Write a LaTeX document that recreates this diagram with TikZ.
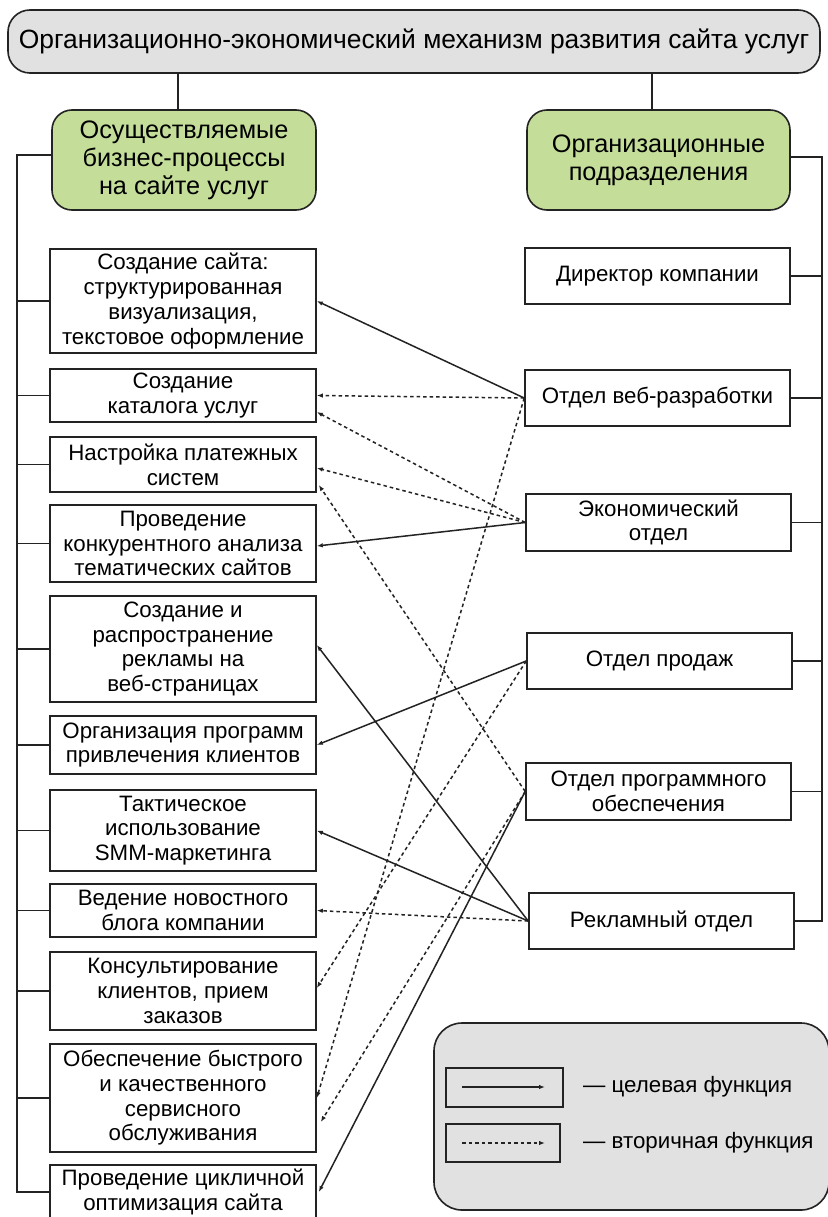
\documentclass[tikz,border=0pt]{standalone}
\usepackage{fontspec}
\setmainfont{Liberation Sans}
\usetikzlibrary{arrows.meta,calc}
\definecolor{grn}{RGB}{196,222,154}
\definecolor{gry}{RGB}{225,225,225}
\definecolor{ln}{RGB}{35,35,35}
\begin{document}
\begin{tikzpicture}[x=1pt,y=-1pt,
  box/.style={draw=ln, line width=1.6pt, fill=white, align=center, inner sep=0pt, minimum width=266pt, font=\fontsize{22.3}{24.7}\selectfont},
  dbox/.style={draw=ln, line width=1.6pt, fill=white, align=center, inner sep=0pt, minimum width=265pt, minimum height=56pt, font=\fontsize{22.3}{24.7}\selectfont},
  head/.style={draw=ln, line width=1.6pt, fill=grn, rounded corners=20pt, align=center, inner sep=0pt, minimum height=100pt, font=\fontsize{25.3}{28}\selectfont},
  wire/.style={draw=ln, line width=1.6pt},
  tgt/.style={draw=ln, line width=1.5pt, -{Latex[length=6pt,width=4.5pt]}},
  sec/.style={draw=ln, line width=1.5pt, dash pattern=on 3.5pt off 3pt, -{Latex[length=6pt,width=4.5pt]}},
  legtext/.style={anchor=west, inner sep=0pt, font=\fontsize{22.3}{24.7}\selectfont}
]
\useasboundingbox (0,0) rectangle (827,1217);
\fill[white] (0,0) rectangle (827,1217);

% top
\node[draw=ln, line width=1.6pt, fill=gry, rounded corners=22pt, minimum width=812pt, minimum height=63pt, inner sep=0pt, font=\fontsize{26.4}{30}\selectfont] (t) at (414,41.5) {Организационно-экономический механизм развития сайта услуг};

\node[head, minimum width=264pt] (g1) at (184,160) {Осуществляемые\\бизнес-процессы\\на сайте услуг};
\node[head, minimum width=263pt] (g2) at (658.5,160) {Организационные\\подразделения};

\coordinate (c1) at (178,0);
\coordinate (c2) at (652,0);
\draw[wire] (t.south -| c1) -- (g1.north -| c1);
\draw[wire] (t.south -| c2) -- (g2.north -| c2);

% processes
\node[box, minimum height=104pt] (p1) at (183,301) {Создание сайта:\\структурированная\\визуализация,\\текстовое оформление};
\node[box, minimum height=53pt] (p2) at (183,395.5) {Создание\\каталога услуг};
\node[box, minimum height=55pt] (p3) at (183,464.5) {Настройка платежных\\систем};
\node[box, minimum height=77pt] (p4) at (183,543.5) {Проведение\\конкурентного анализа\\тематических сайтов};
\node[box, minimum height=106pt] (p5) at (183,649) {Создание и\\распространение\\рекламы на\\веб-страницах};
\node[box, minimum height=58pt] (p6) at (183,745) {Организация программ\\привлечения клиентов};
\node[box, minimum height=81pt] (p7) at (183,830.5) {Тактическое\\использование\\SMM-маркетинга};
\node[box, minimum height=53pt] (p8) at (183,910.5) {Ведение новостного\\блога компании};
\node[box, minimum height=78pt] (p9) at (183,991) {Консультирование\\клиентов, прием\\заказов};
\node[box, minimum height=108pt] (p10) at (183,1098) {Обеспечение быстрого\\и качественного\\сервисного\\обслуживания};
\node[box, minimum height=54pt] (p11) at (183,1192) {Проведение цикличной\\оптимизация сайта};

% departments
\node[dbox] (d1) at (657.5,276) {Директор компании};
\node[dbox] (d2) at (657.5,398) {Отдел веб-разработки};
\node[dbox, minimum height=57pt] (d3) at (658.5,522.5) {Экономический\\отдел};
\node[dbox] (d4) at (659.5,661) {Отдел продаж};
\node[dbox, minimum height=57pt] (d5) at (658.5,791.5) {Отдел программного\\обеспечения};
\node[dbox] (d6) at (661.5,921) {Рекламный отдел};

% left bus
\coordinate (lb) at (17,0);
\draw[wire] ([yshift=5pt]g1.west) -- ([yshift=5pt]g1.west -| lb) -- (p11.west -| lb) -- (p11.west);
\foreach \n in {p1,p2,p3,p4,p5,p6,p7,p8,p9,p10}
  \draw[wire] (\n.west -| lb) -- (\n.west);

% right bus
\coordinate (rb) at (822,0);
\draw[wire] ([yshift=3pt]g2.east) -- ([yshift=3pt]g2.east -| rb) -- (d6.east -| rb) -- (d6.east);
\foreach \n in {d1,d2,d3,d4,d5}
  \draw[wire] (\n.east) -- (\n.east -| rb);

% target functions
\draw[tgt] (d2.west) -- (p1.east);
\draw[tgt] (d3.west) -- ([yshift=-2.5pt]p4.east);
\draw[tgt] (d4.west) -- (p6.east);
\draw[tgt] (d6.west) -- ([yshift=4pt]p5.east);
\draw[tgt] (d6.west) -- (p7.east);
\draw[tgt] (d5.west) -- ([xshift=2pt]p11.east);

% secondary functions
\draw[sec] (d2.west) -- (p2.east);
\draw[sec] (d2.west) -- (p10.east);
\draw[sec] (d3.west) -- ([yshift=-16.5pt]p2.east);
\draw[sec] (d3.west) -- ([yshift=-3.5pt]p3.east);
\draw[sec] (d5.west) -- ([xshift=2pt,yshift=-20.5pt]p3.east);
\draw[sec] (d4.west) -- ([yshift=3pt]p9.east);
\draw[sec] (d5.west) -- ([xshift=4pt,yshift=-24pt]p10.east);
\draw[sec] (d6.west) -- (p8.east);

% legend
\node[draw=ln, line width=1.6pt, fill=gry, rounded corners=28pt, minimum width=395pt, minimum height=187pt, inner sep=0pt] (L) at (631.5,1116.5) {};
\node[draw=ln, line width=1.6pt, minimum width=117pt, minimum height=39pt, inner sep=0pt] (lb1) at (504.5,1087.5) {};
\node[draw=ln, line width=1.6pt, minimum width=114pt, minimum height=38pt, inner sep=0pt] (lb2) at (503,1143) {};
\coordinate (a1s) at (462,1087);
\coordinate (a1e) at (545,1087);
\coordinate (a2s) at (462,1143);
\coordinate (a2e) at (545,1143);
\draw[tgt] (a1s) -- (a1e);
\draw[sec] (a2s) -- (a2e);
\node[legtext] (lt1) at (583,1087) {— целевая функция};
\node[legtext] (lt2) at (583,1143) {— вторичная функция};
\end{tikzpicture}
\end{document}
